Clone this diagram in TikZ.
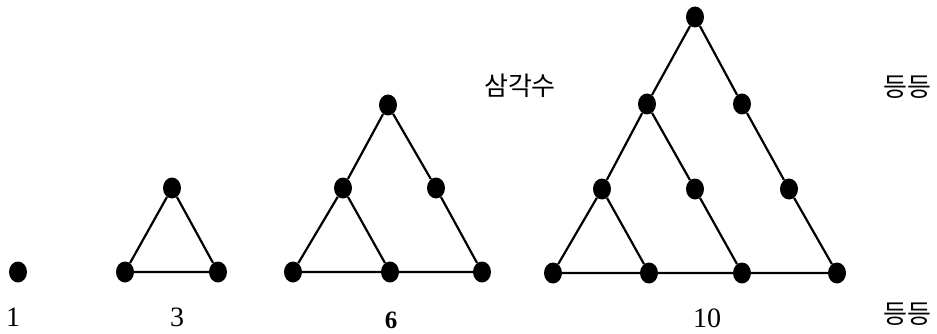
\documentclass[tikz,border=0pt]{standalone}
\usepackage{fontspec}
\setmainfont{Liberation Serif}
\newfontfamily\krfont{Noto Sans CJK KR}
\usetikzlibrary{shapes.geometric}
\tikzset{
  dot/.style={ellipse,fill=black,draw=none,inner sep=0pt,minimum width=18pt,minimum height=21pt},
  edge/.style={line width=2.2pt,black},
  numlabel/.style={font=\fontsize{28}{28}\selectfont,inner sep=0pt},
  boldlabel/.style={font=\fontsize{25}{25}\selectfont\bfseries,inner sep=0pt},
  krlabel/.style={font=\krfont\fontsize{26}{26}\selectfont,inner sep=0pt}
}
\begin{document}
\begin{tikzpicture}[x=1pt,y=-1pt]
\useasboundingbox (0,0) rectangle (937,334);
% 1
\node[dot] (a1) at (18,272) {};
% 3
\node[dot] (b1) at (125,272) {};
\node[dot] (b2) at (218,272) {};
\node[dot] (b3) at (172,188) {};
\draw[edge] (b1) -- (b2) -- (b3) -- (b1);
% 6
\node[dot] (c1) at (293,272) {};
\node[dot] (c2) at (390,272) {};
\node[dot] (c3) at (482,272) {};
\node[dot] (c4) at (343,188) {};
\node[dot] (c5) at (436,188) {};
\node[dot] (c6) at (388,105) {};
\draw[edge] (c1) -- (c2) -- (c3) -- (c5) -- (c6) -- (c4) -- (c1);
\draw[edge] (c4) -- (c2);
% 10
\node[dot] (d1) at (553,273) {};
\node[dot] (d2) at (649,273) {};
\node[dot] (d3) at (742,273) {};
\node[dot] (d4) at (837,273) {};
\node[dot] (d5) at (602,189) {};
\node[dot] (d6) at (695,189) {};
\node[dot] (d7) at (789,189) {};
\node[dot] (d8) at (647,104) {};
\node[dot] (d9) at (742,104) {};
\node[dot] (d10) at (695,17) {};
\draw[edge] (d1) -- (d2) -- (d3) -- (d4) -- (d7) -- (d9) -- (d10) -- (d8) -- (d5) -- (d1);
\draw[edge] (d8) -- (d6) -- (d3);
\draw[edge] (d5) -- (d2);
% labels
\node[numlabel] (l1) at (13,317) {1};
\node[numlabel] (l3) at (177,317) {3};
\node[boldlabel] (l6) at (391,320) {6};
\node[numlabel] (l10) at (707,318) {10};
\node[krlabel] (t) at (520,86) {삼각수};
\node[krlabel] (e1) at (907,87) {등등};
\node[krlabel] (e2) at (907,314) {등등};
\end{tikzpicture}
\end{document}
